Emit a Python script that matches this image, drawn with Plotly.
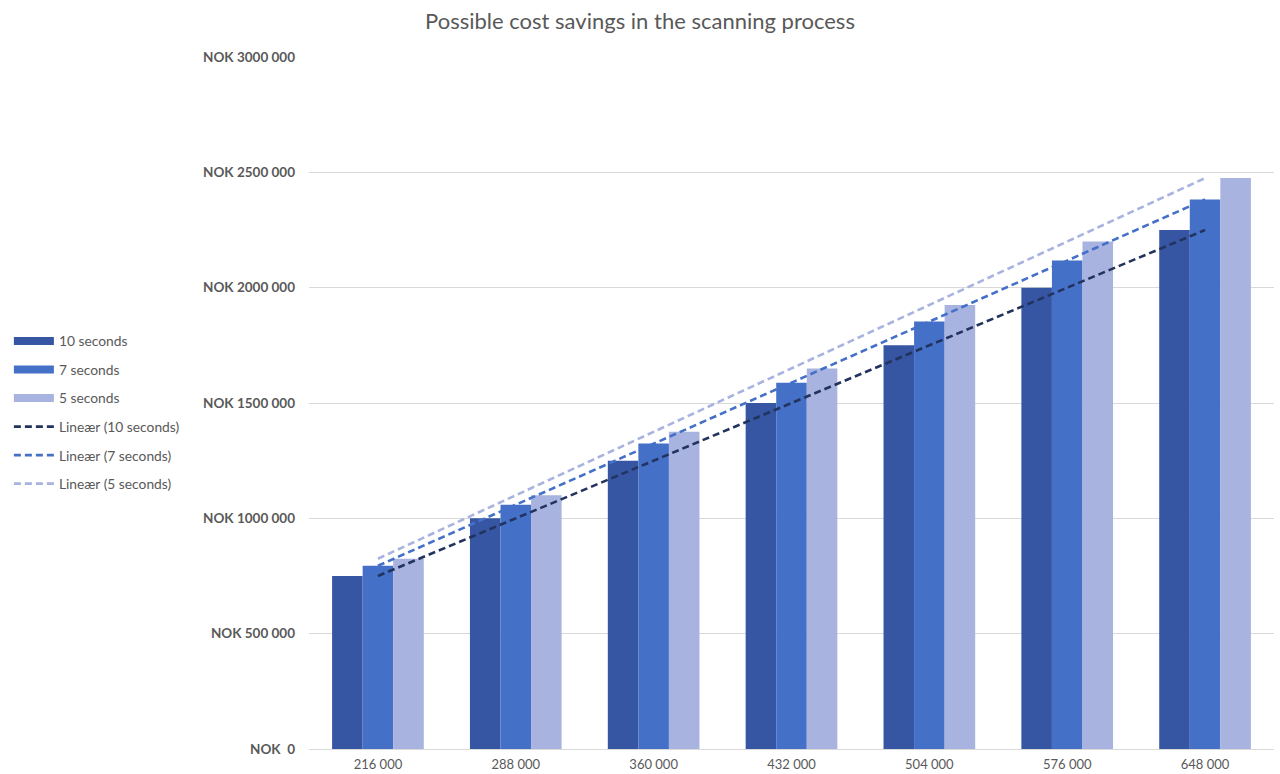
import numpy as np
import plotly.graph_objects as go

# Number of scans per year (categories) and estimated savings per scan time
categories = ["216 000", "288 000", "360 000", "432 000", "504 000", "576 000", "648 000"]
savings_10s = [750000, 1000000, 1250000, 1500000, 1750000, 2000000, 2250000]
savings_7s = [794000, 1059000, 1324000, 1588000, 1853000, 2118000, 2382000]
savings_5s = [825000, 1100000, 1375000, 1650000, 1925000, 2200000, 2475000]

y_tickvals = [0, 500000, 1000000, 1500000, 2000000, 2500000, 3000000]
y_ticktext = ["NOK  0", "NOK 500 000", "NOK 1000 000", "NOK 1500 000",
              "NOK 2000 000", "NOK 2500 000", "NOK 3000 000"]

series = [
    ("10 seconds", savings_10s, "#3656A4", "#22335E"),
    ("7 seconds", savings_7s, "#4470C8", "#4470C8"),
    ("5 seconds", savings_5s, "#A8B3DF", "#A8B3DF"),
]

FONT = "Lato, 'Open Sans', sans-serif"
GREY = "#595959"

fig = go.Figure()

# Bars (legend entries drawn as wide strips via companion line traces)
for i, (name, vals, bar_col, _) in enumerate(series):
    fig.add_trace(go.Bar(
        x=categories, y=vals, name=name, marker_color=bar_col,
        marker_line_width=0, showlegend=False, legendgroup=name,
    ))
    fig.add_trace(go.Scatter(
        x=[None], y=[None], mode="lines", name=name, legendgroup=name,
        line=dict(color=bar_col, width=8), legendrank=i,
    ))

# Linear trendlines fitted to each series
idx = np.arange(len(categories))
for i, (name, vals, _, line_col) in enumerate(series):
    slope, intercept = np.polyfit(idx, vals, 1)
    trend = slope * idx + intercept
    fig.add_trace(go.Scatter(
        x=categories, y=trend, mode="lines", name=f"Lineær ({name})",
        legendgroup=f"trend{i}", legendrank=3 + i,
        line=dict(color=line_col, width=2.6, dash="7px,4px"),
        hoverinfo="skip",
    ))

fig.update_layout(
    width=1280, height=774,
    paper_bgcolor="white", plot_bgcolor="white",
    margin=dict(l=309, r=6, t=57, b=25),
    barmode="group", bargap=0.335, bargroupgap=0,
    title=dict(text="Possible cost savings in the scanning process",
               x=0.5, xanchor="center", y=0.972, yanchor="middle",
               font=dict(family=FONT, size=22, color=GREY)),
    font=dict(family=FONT, color=GREY),
    legend=dict(
        x=-0.311, xanchor="left", y=0.612, yanchor="top",
        font=dict(family=FONT, size=13.8, color=GREY),
        traceorder="grouped", tracegroupgap=7.6,
        itemwidth=40, bgcolor="rgba(0,0,0,0)",
    ),
    showlegend=True,
)

fig.update_xaxes(
    type="category", showgrid=False, showline=False, ticks="",
    automargin=False, ticklabelstandoff=6,
    tickfont=dict(family=FONT, size=13, color=GREY),
)
fig.update_yaxes(
    range=[0, 3000000], tickvals=y_tickvals, ticktext=y_ticktext,
    showgrid=True, gridcolor="#D9D9D9", gridwidth=1,
    zeroline=True, zerolinecolor="#D9D9D9", zerolinewidth=1,
    showline=False, ticks="", ticklabelstandoff=13, automargin=False,
    tickfont=dict(family="Lato", size=13.5, color=GREY, weight="bold"),
)

fig.write_html("out.html")
